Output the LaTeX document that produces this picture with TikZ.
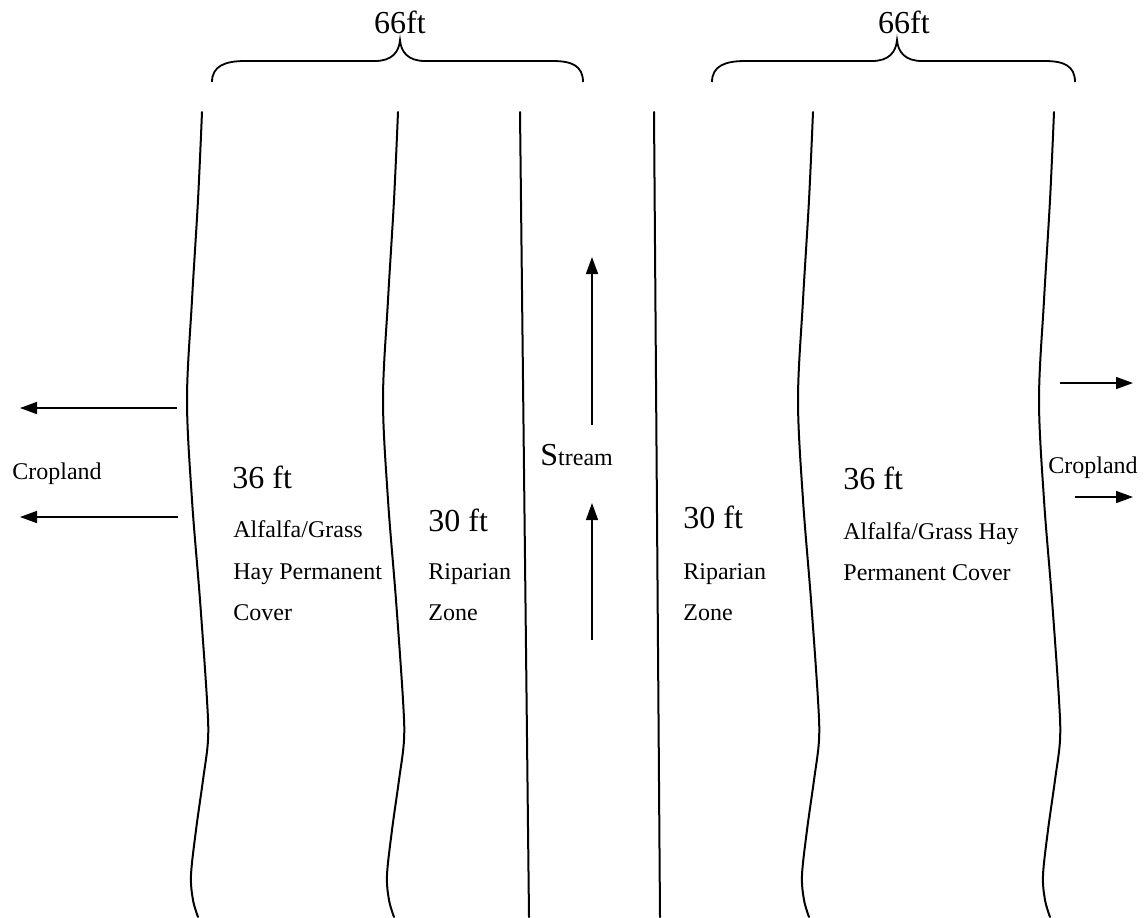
\documentclass[tikz,border=0pt]{standalone}
\usepackage{fontspec}
\setmainfont{Liberation Serif}
\usetikzlibrary{arrows.meta}
\tikzset{
  smalltxt/.style={font=\fontsize{12}{14}\selectfont, inner sep=0pt, anchor=base west},
  bigtxt/.style={font=\fontsize{16}{19}\selectfont, inner sep=0pt, anchor=base west},
  bank/.style={line width=1pt, line cap=round},
  flowarrow/.style={line width=0.8pt, -{Triangle[length=8.5pt,width=6pt]}},
  bracepath/.style={line width=0.9pt}
}
\begin{document}
\begin{tikzpicture}[x=0.5pt,y=-0.5pt]
\useasboundingbox (0,0) rectangle (1144,917);

% wavy field boundaries (same shape, shifted)
\foreach \dx in {0,196,611,852}{
  \draw[bank, shift={(\dx,0)}] plot[smooth, tension=0.55] coordinates {
    (202,112) (198,200) (192,300) (187,400) (192,500) (200,600)
    (207,700) (208,740) (203,780) (196,830) (191,875) (193,900) (198,917)};
}
% stream banks
\draw[bank] (520,112) -- (529,917);
\draw[bank] (654,112) -- (660,917);

% braces
\draw[bracepath] (212,82) .. controls (212,66) and (225,61) .. (245,61) -- (375,61)
  .. controls (392,61) and (399,52) .. (400,40)
  .. controls (401,52) and (408,61) .. (425,61) -- (553,61)
  .. controls (572,61) and (583,66) .. (583,82);
\draw[bracepath] (712,82) .. controls (712,66) and (725,61) .. (745,61) -- (872,61)
  .. controls (889,61) and (896,52) .. (897,40)
  .. controls (898,52) and (905,61) .. (922,61) -- (1045,61)
  .. controls (1064,61) and (1075,66) .. (1075,82);
\node[bigtxt, anchor=base] (w1) at (400,33) {66ft};
\node[bigtxt, anchor=base] (w2) at (904,33) {66ft};

% arrows
\coordinate (la1s) at (177,408); \coordinate (la1e) at (20,408);
\coordinate (la2s) at (178,517); \coordinate (la2e) at (20,517);
\coordinate (ra1s) at (1060,383); \coordinate (ra1e) at (1133,383);
\coordinate (ra2s) at (1075,497); \coordinate (ra2e) at (1133,497);
\coordinate (sa1s) at (592,425); \coordinate (sa1e) at (592,257);
\coordinate (sa2s) at (592,640); \coordinate (sa2e) at (592,503);
\draw[flowarrow] (la1s) -- (la1e);
\draw[flowarrow] (la2s) -- (la2e);
\draw[flowarrow] (ra1s) -- (ra1e);
\draw[flowarrow] (ra2s) -- (ra2e);
\draw[flowarrow] (sa1s) -- (sa1e);
\draw[flowarrow] (sa2s) -- (sa2e);

% texts
\node[smalltxt] (cropl) at (12,479) {Cropland};
\node[smalltxt] (cropr) at (1048,473) {Cropland};
\node[bigtxt] (stream) at (540,465) {S{\fontsize{12}{14}\selectfont tream}};

\node[bigtxt] (l36) at (232,488) {36 ft};
\node[smalltxt] (la1) at (233,537) {Alfalfa/Grass};
\node[smalltxt] (la2) at (233,579) {Hay Permanent};
\node[smalltxt] (la3) at (233,620) {Cover};

\node[bigtxt] (l30) at (428,531) {30 ft};
\node[smalltxt] (lr1) at (428,579) {Riparian};
\node[smalltxt] (lr2) at (428,620) {Zone};

\node[bigtxt] (r30) at (683,528) {30 ft};
\node[smalltxt] (rr1) at (683,579) {Riparian};
\node[smalltxt] (rr2) at (683,620) {Zone};

\node[bigtxt] (r36) at (843,489) {36 ft};
\node[smalltxt] (ra1) at (843,539) {Alfalfa/Grass Hay};
\node[smalltxt] (ra2) at (843,580) {Permanent Cover};
\end{tikzpicture}
\end{document}
